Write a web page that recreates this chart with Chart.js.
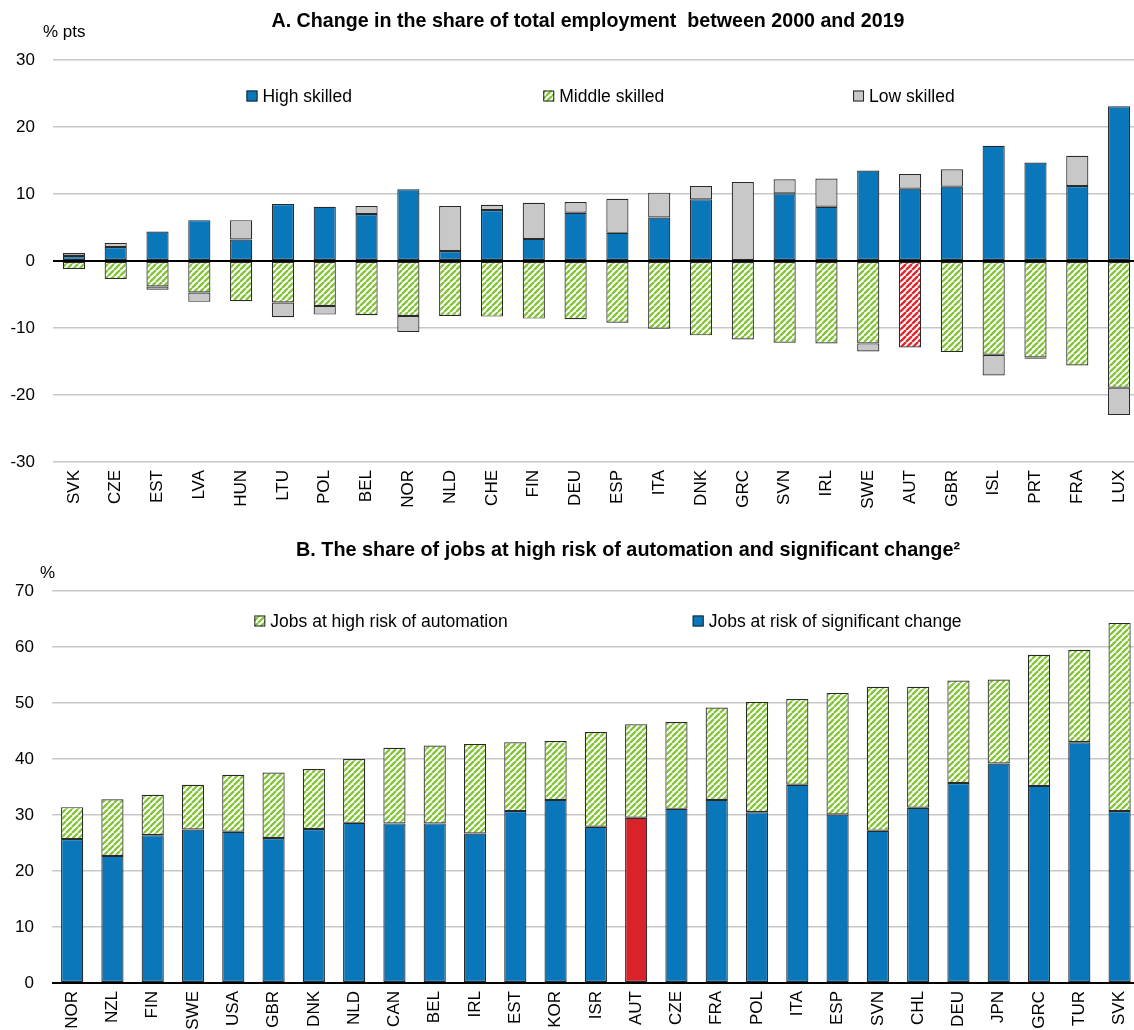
<!DOCTYPE html>
<html>
<head>
<meta charset="utf-8">
<script src="https://cdn.jsdelivr.net/npm/chart.js@4.4.1/dist/chart.umd.min.js"></script>
<style>
html,body{margin:0;padding:0;background:#fff;overflow:hidden;width:1134px;height:1030px}
.wrap{position:absolute;left:0;width:1140px;height:515px}
#wa{top:0}
#wb{top:515px}
</style>
</head>
<body>
<div class="wrap" id="wa"><canvas id="ca" width="1140" height="515"></canvas></div>
<div class="wrap" id="wb"><canvas id="cb" width="1140" height="515"></canvas></div>
<script>
// ---------- Panel A data ----------
const countriesA = ["SVK","CZE","EST","LVA","HUN","LTU","POL","BEL","NOR","NLD","CHE","FIN","DEU","ESP","ITA","DNK","GRC","SVN","IRL","SWE","AUT","GBR","ISL","PRT","FRA","LUX"];
const highSkilled   = [0.75, 2.1, 4.4, 6.1, 3.2, 8.5, 8.1, 7.0, 10.7, 1.5, 7.6, 3.3, 7.2, 4.2, 6.5, 9.2, 0.0, 10.1, 8.1, 13.5, 10.8, 11.1, 17.2, 14.7, 11.2, 23.1];
const middleSkilled = [-1.2, -2.7, -3.8, -4.7, -6.0, -6.2, -6.7, -8.1, -8.2, -8.2, -8.3, -8.6, -8.7, -9.2, -10.1, -11.1, -11.7, -12.2, -12.3, -12.3, -12.9, -13.6, -14.0, -14.4, -15.6, -18.9];
const lowSkilled    = [0.45, 0.6, -0.5, -1.4, 2.9, -2.2, -1.3, 1.2, -2.4, 6.7, 0.8, 5.4, 1.6, 5.1, 3.7, 2.0, 11.8, 2.1, 4.2, -1.2, 2.2, 2.6, -3.1, -0.2, 4.5, -4.1];
const yTicksA = [-30, -20, -10, 0, 10, 20, 30];

// ---------- Panel B data ----------
const countriesB = ["NOR","NZL","FIN","SWE","USA","GBR","DNK","NLD","CAN","BEL","IRL","EST","KOR","ISR","AUT","CZE","FRA","POL","ITA","ESP","SVN","CHL","DEU","JPN","GRC","TUR","SVK"];
const significantChange = [25.7, 22.7, 26.4, 27.4, 27.0, 25.9, 27.5, 28.6, 28.5, 28.5, 26.7, 30.7, 32.7, 27.9, 29.5, 31.1, 32.7, 30.5, 35.4, 30.1, 27.2, 31.3, 35.7, 39.2, 35.2, 43.0, 30.7];
const highRiskAutomation = [5.7, 10.1, 7.2, 8.0, 10.2, 11.7, 10.7, 11.4, 13.5, 13.9, 16.0, 12.3, 10.5, 16.9, 16.7, 15.5, 16.5, 19.7, 15.3, 21.7, 25.7, 21.6, 18.3, 15.0, 23.4, 16.5, 33.6];
const yTicksB = [0, 10, 20, 30, 40, 50, 60, 70];

const highlight = "AUT";
const BLUE = "#0a77bb", GRAY = "#c8c8c8", GREEN = "#86c43c", RED = "#e3262d", RED_SOLID = "#d9232a";
const FONT = "'Liberation Sans', Arial, sans-serif";

function stripes(color){
  const c = document.createElement('canvas');
  c.width = 6; c.height = 6;
  const x = c.getContext('2d');
  x.fillStyle = '#fff'; x.fillRect(0,0,6,6);
  x.strokeStyle = color; x.lineWidth = 2.4;
  x.beginPath();
  for (let k = -6; k <= 12; k += 6){ x.moveTo(k, 6); x.lineTo(k + 6, 0); }
  x.stroke();
  return x.createPattern(c, 'repeat');
}
const greenPat = stripes(GREEN), redPat = stripes(RED);

function gridOpts(){
  return {
    drawTicks: false,
    color: c => (c.tick && c.tick.value === 0) ? '#000' : '#c8c8c8',
    lineWidth: c => (c.tick && c.tick.value === 0) ? 2 : 1.5
  };
}

function overlay(opts){
  return {
    id: 'overlay_' + opts.key,
    afterDraw(chart){
      const ctx = chart.ctx, a = chart.chartArea;
      ctx.save();
      ctx.fillStyle = '#000';
      // title: condensed bold, fitted to the reference width
      ctx.font = "bold 21px " + FONT;
      ctx.textBaseline = 'middle'; ctx.textAlign = 'center';
      const w = ctx.measureText(opts.title).width;
      ctx.save();
      ctx.translate(opts.titleX, opts.titleY);
      ctx.scale(opts.titleW / w, 1);
      ctx.fillText(opts.title, 0, 0);
      ctx.restore();
      ctx.font = "17px " + FONT;
      ctx.textAlign = 'left';
      ctx.fillText(opts.unit, opts.unitX, opts.unitY);
      // legend
      opts.legend.forEach(it => {
        const ds = chart.data.datasets[it.ds];
        const x = a.left + it.frac * (a.right - a.left);
        const y = a.top + opts.legendDy;
        ctx.fillStyle = it.fill;
        ctx.fillRect(x, y - 5.5, 11, 11);
        ctx.strokeStyle = '#222'; ctx.lineWidth = 1;
        ctx.strokeRect(x + 0.5, y - 5, 10, 10);
        ctx.fillStyle = '#000';
        ctx.textBaseline = 'middle';
        ctx.font = "17.5px " + FONT;
        ctx.fillText(ds.label, x + 16, y + 1);
      });
      ctx.restore();
    }
  };
}

const barCommon = { borderColor: '#2a2a2a', borderWidth: 1.2, borderSkipped: false, categoryPercentage: 1 };

// ---------- Chart A ----------
new Chart(document.getElementById('ca'), {
  type: 'bar',
  data: {
    labels: countriesA,
    datasets: [
      { label: 'High skilled', data: highSkilled, backgroundColor: BLUE },
      { label: 'Middle skilled', data: middleSkilled, backgroundColor: countriesA.map(c => c === highlight ? redPat : greenPat) },
      { label: 'Low skilled', data: lowSkilled, backgroundColor: GRAY }
    ]
  },
  options: {
    responsive: false, animation: false,
    layout: { padding: { top: 60, left: 0, right: 0, bottom: 0 } },
    datasets: { bar: Object.assign({ barPercentage: 0.53 }, barCommon) },
    plugins: { legend: { display: false }, tooltip: { enabled: false } },
    scales: {
      x: {
        stacked: true,
        grid: { display: false },
        border: { display: false },
        ticks: { minRotation: 90, maxRotation: 90, autoSkip: false, padding: 0, color: '#000', font: { family: FONT, size: 17 } },
        afterFit: s => { s.height = 53; }
      },
      y: {
        stacked: true, min: -30, max: 30,
        afterBuildTicks: s => { s.ticks = yTicksA.map(v => ({ value: v })); },
        grid: gridOpts(),
        border: { display: false },
        ticks: { padding: 18, color: '#000', font: { family: FONT, size: 17 } },
        afterFit: s => { s.width = 53; }
      }
    }
  },
  plugins: [overlay({
    key: 'a',
    title: 'A. Change in the share of total employment  between 2000 and 2019',
    titleX: 588, titleY: 21, titleW: 633,
    unit: '% pts', unitX: 43, unitY: 32,
    legendDy: 36,
    legend: [
      { ds: 0, frac: 0.178, fill: BLUE },
      { ds: 1, frac: 0.451, fill: greenPat },
      { ds: 2, frac: 0.736, fill: GRAY }
    ]
  })]
});

// ---------- Chart B ----------
new Chart(document.getElementById('cb'), {
  type: 'bar',
  data: {
    labels: countriesB,
    datasets: [
      { label: 'Jobs at risk of significant change', data: significantChange, backgroundColor: countriesB.map(c => c === highlight ? RED_SOLID : BLUE) },
      { label: 'Jobs at high risk of automation', data: highRiskAutomation, backgroundColor: greenPat }
    ]
  },
  options: {
    responsive: false, animation: false,
    layout: { padding: { top: 76, left: 0, right: 0, bottom: 0 } },
    datasets: { bar: Object.assign({ barPercentage: 0.55 }, barCommon) },
    plugins: { legend: { display: false }, tooltip: { enabled: false } },
    scales: {
      x: {
        stacked: true,
        grid: { display: false },
        border: { display: false },
        ticks: { minRotation: 90, maxRotation: 90, autoSkip: false, padding: 0, color: '#000', font: { family: FONT, size: 17 } },
        afterFit: s => { s.height = 47; }
      },
      y: {
        stacked: true, min: 0, max: 70,
        afterBuildTicks: s => { s.ticks = yTicksB.map(v => ({ value: v })); },
        grid: gridOpts(),
        border: { display: false },
        ticks: { padding: 18, color: '#000', font: { family: FONT, size: 17 } },
        afterFit: s => { s.width = 52; }
      }
    }
  },
  plugins: [overlay({
    key: 'b',
    title: 'B. The share of jobs at high risk of automation and significant change\u00b2',
    titleX: 628, titleY: 35, titleW: 664,
    unit: '%', unitX: 40, unitY: 58,
    legendDy: 30,
    legend: [
      { ds: 1, frac: 0.186, fill: greenPat },
      { ds: 0, frac: 0.589, fill: BLUE }
    ]
  })]
});
</script>
</body>
</html>
